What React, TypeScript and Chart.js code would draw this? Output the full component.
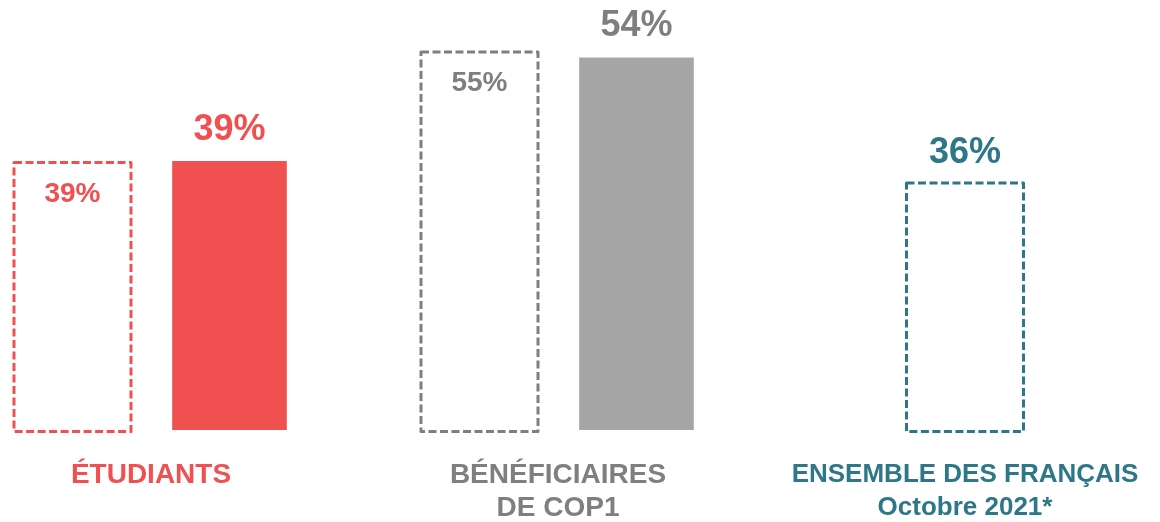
import React, { useEffect, useRef } from "react";
import { Chart, registerables } from "chart.js";

Chart.register(...registerables);

const categories: string[][] = [
  ["ÉTUDIANTS"],
  ["BÉNÉFICIAIRES", "DE COP1"],
  ["ENSEMBLE DES FRANÇAIS", "Octobre 2021*"],
];
const previousValues: (number | null)[] = [39, 55, 36];
const currentValues: (number | null)[] = [39, 54, null];

const solidColors = ["#F05050", "#A6A6A6", "#2E7788"];
const outlineColors = ["#F05050", "#7F7F7F", "#2E7788"];
const labelColors = ["#F05050", "#7F7F7F", "#2E7788"];
const labelFontSizes = [28, 28, 26];
const FONT = "'Liberation Sans', Arial, sans-serif";

const overlayPlugin = {
  id: "overlay",
  afterDatasetsDraw(chart: any) {
    const ctx = chart.ctx;
    const dashedMeta = chart.getDatasetMeta(0);
    const solidMeta = chart.getDatasetMeta(1);
    ctx.save();
    // dashed outline bars
    dashedMeta.data.forEach((el: any, i: number) => {
      const v = previousValues[i];
      if (v === null || v === undefined) return;
      const { x, y, base, width } = el.getProps(["x", "y", "base", "width"], true);
      ctx.setLineDash([8, 3.5]);
      ctx.lineWidth = 3;
      ctx.lineJoin = "round";
      ctx.strokeStyle = outlineColors[i];
      ctx.strokeRect(x - width / 2, y + 1.5, width, base - y);
    });
    ctx.setLineDash([]);
    ctx.textAlign = "center";
    ctx.textBaseline = "middle";
    // labels for dashed bars
    dashedMeta.data.forEach((el: any, i: number) => {
      const v = previousValues[i];
      if (v === null || v === undefined) return;
      const { x, y } = el.getProps(["x", "y"], true);
      const hasCurrent = currentValues[i] !== null && currentValues[i] !== undefined;
      ctx.fillStyle = outlineColors[i];
      if (hasCurrent) {
        ctx.font = `bold 28px ${FONT}`;
        ctx.fillText(`${v}%`, x, y + 33);
      } else {
        ctx.font = `bold 36px ${FONT}`;
        ctx.fillText(`${v}%`, x, y - 29);
      }
    });
    // labels for solid bars
    solidMeta.data.forEach((el: any, i: number) => {
      const v = currentValues[i];
      if (v === null || v === undefined) return;
      const { x, y } = el.getProps(["x", "y"], true);
      ctx.fillStyle = i === 1 ? outlineColors[i] : solidColors[i];
      ctx.font = `bold 36px ${FONT}`;
      ctx.fillText(`${v}%`, x, y - 31);
    });
    ctx.restore();
  },
  afterDraw(chart: any) {
    const ctx = chart.ctx;
    const xScale = chart.scales.x;
    const bottom = chart.chartArea.bottom;
    ctx.save();
    ctx.textAlign = "center";
    ctx.textBaseline = "middle";
    categories.forEach((lines, i) => {
      const x = xScale.getPixelForValue(i);
      ctx.fillStyle = labelColors[i];
      ctx.font = `bold ${labelFontSizes[i]}px ${FONT}`;
      lines.forEach((line, j) => {
        ctx.fillText(line, x, bottom + 45 + j * 33);
      });
    });
    ctx.restore();
  },
};

export default function App() {
  const canvasRef = useRef<HTMLCanvasElement | null>(null);

  useEffect(() => {
    if (!canvasRef.current) return;
    const chart = new Chart(canvasRef.current, {
      type: "bar",
      data: {
        labels: categories,
        datasets: [
          {
            label: "Précédent",
            data: previousValues,
            backgroundColor: "rgba(0,0,0,0)",
            borderWidth: 0,
            categoryPercentage: 0.7715,
            barPercentage: 0.76,
            maxBarThickness: 117,
            skipNull: true,
            clip: false,
          } as any,
          {
            label: "Actuel",
            data: currentValues,
            backgroundColor: solidColors,
            borderWidth: 0,
            categoryPercentage: 0.7715,
            barPercentage: 0.73,
            maxBarThickness: 115,
            skipNull: true,
            clip: false,
          } as any,
        ],
      },
      options: {
        animation: false,
        responsive: true,
        maintainAspectRatio: false,
        events: [],
        layout: { padding: { top: 16, bottom: 92, left: 151, right: 195 } },
        plugins: {
          legend: { display: false },
          tooltip: { enabled: false },
        },
        scales: {
          x: {
            display: false,
            offset: false,
            grid: { display: false },
          },
          y: {
            display: false,
            min: 0,
            max: 60,
            grid: { display: false },
          },
        },
      },
      plugins: [overlayPlugin],
    });
    return () => chart.destroy();
  }, []);

  return (
    <div
      style={{
        position: "absolute",
        left: 0,
        top: 0,
        width: 1160,
        height: 522,
        background: "#ffffff",
      }}
    >
      <canvas ref={canvasRef} />
    </div>
  );
}
